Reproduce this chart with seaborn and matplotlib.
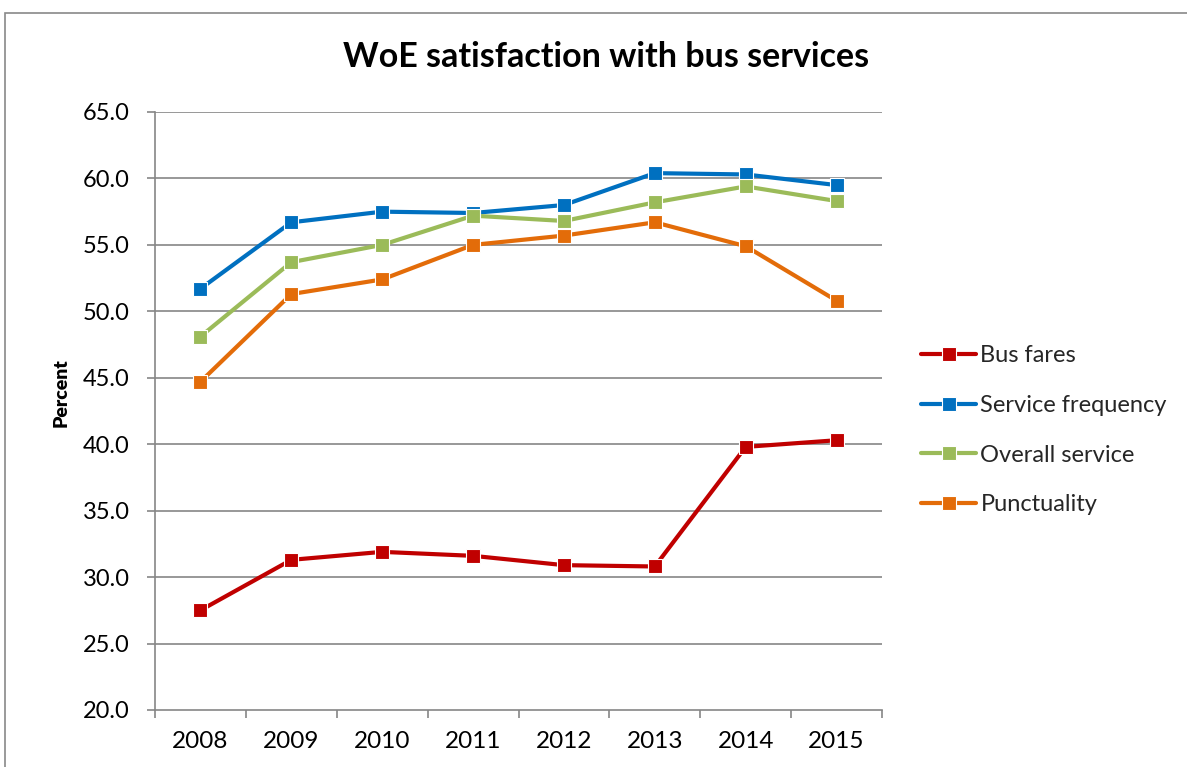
import matplotlib
matplotlib.use("Agg")
import matplotlib.pyplot as plt
from matplotlib.lines import Line2D
from matplotlib.patches import Rectangle
import seaborn as sns
import pandas as pd

years = [2008, 2009, 2010, 2011, 2012, 2013, 2014, 2015]
bus_fares = [27.5, 31.3, 31.9, 31.6, 30.9, 30.8, 39.8, 40.3]
service_frequency = [51.7, 56.7, 57.5, 57.4, 58.0, 60.4, 60.3, 59.5]
overall_service = [48.1, 53.7, 55.0, 57.2, 56.8, 58.2, 59.4, 58.3]
punctuality = [44.7, 51.3, 52.4, 55.0, 55.7, 56.7, 54.9, 50.8]

series_names = ["Bus fares", "Service frequency", "Overall service", "Punctuality"]
series_values = [bus_fares, service_frequency, overall_service, punctuality]
colors = ["#C00000", "#0070C0", "#9BBB59", "#E36C09"]
y_ticks = [20, 25, 30, 35, 40, 45, 50, 55, 60, 65]

rows = []
for name, vals in zip(series_names, series_values):
    for yr, v in zip(years, vals):
        rows.append({"Year": yr, "Value": v, "Series": name})
df = pd.DataFrame(rows)

sns.set_style("white")
plt.rcParams["font.family"] = ["Lato", "DejaVu Sans"]

W, H = 1187, 767
fig = plt.figure(figsize=(W / 100, H / 100), dpi=100)
ax = fig.add_axes([155 / W, 1 - 710 / H, (882 - 155) / W, (710 - 112) / H])

grid_col = "#868686"
for yv in y_ticks[1:]:
    ax.axhline(yv, color=grid_col, lw=1.2, zorder=0)

palette = dict(zip(series_names, colors))
sns.lineplot(data=df, x="Year", y="Value", hue="Series", hue_order=series_names,
             palette=palette, marker="s", markersize=10.5, markeredgecolor="white",
             markeredgewidth=0.8, linewidth=3.0, errorbar=None, legend=False, ax=ax,
             zorder=3)

ax.set_xlim(years[0] - 0.5, years[-1] + 0.5)
ax.set_ylim(y_ticks[0], y_ticks[-1])
ax.set_yticks(y_ticks)
ax.set_yticklabels([f"{v:.1f}" for v in y_ticks])
ax.set_xticks(years)
ax.set_xticklabels([str(y) for y in years])
ax.set_xticks([y - 0.5 for y in years] + [years[-1] + 0.5], minor=True)

ax.tick_params(axis="x", which="major", length=0, pad=15, labelsize=17.5, colors="black")
ax.tick_params(axis="x", which="minor", length=6, width=1.2, color=grid_col, direction="out", bottom=True)
ax.tick_params(axis="y", which="major", length=6, width=1.2, color=grid_col, pad=12,
               labelsize=17, direction="out", left=True, labelcolor="black")

for s in ["top", "right"]:
    ax.spines[s].set_visible(False)
for s in ["left", "bottom"]:
    ax.spines[s].set_color(grid_col)
    ax.spines[s].set_linewidth(1.2)

ax.set_xlabel("")
ax.set_ylabel("Percent", fontsize=14, fontweight="heavy", color="black")
ax.yaxis.set_label_coords(-0.117, 0.53)

fig.text(606 / W, 1 - 57 / H, "WoE satisfaction with bus services", ha="center", va="center",
         fontsize=24.5, fontweight="bold", color="black")

handles = [Line2D([0], [0], color=c, lw=3.0, marker="s", markersize=10.5,
                  markeredgecolor="white", markeredgewidth=0.8) for c in colors]
leg = fig.legend(handles, series_names, loc="upper left",
                 bbox_to_anchor=(921 / W, 1 - 345 / H), frameon=False, fontsize=17,
                 handlelength=2.35, handletextpad=0.17, labelspacing=1.22, borderaxespad=0,
                 borderpad=0)

fig.add_artist(Rectangle((4.5 / W, -0.05), 1.2, 1 - 13 / H + 0.05, transform=fig.transFigure,
                         fill=False, edgecolor="#898989", lw=1.2))

fig.savefig("out.png", dpi=100, facecolor="white")
